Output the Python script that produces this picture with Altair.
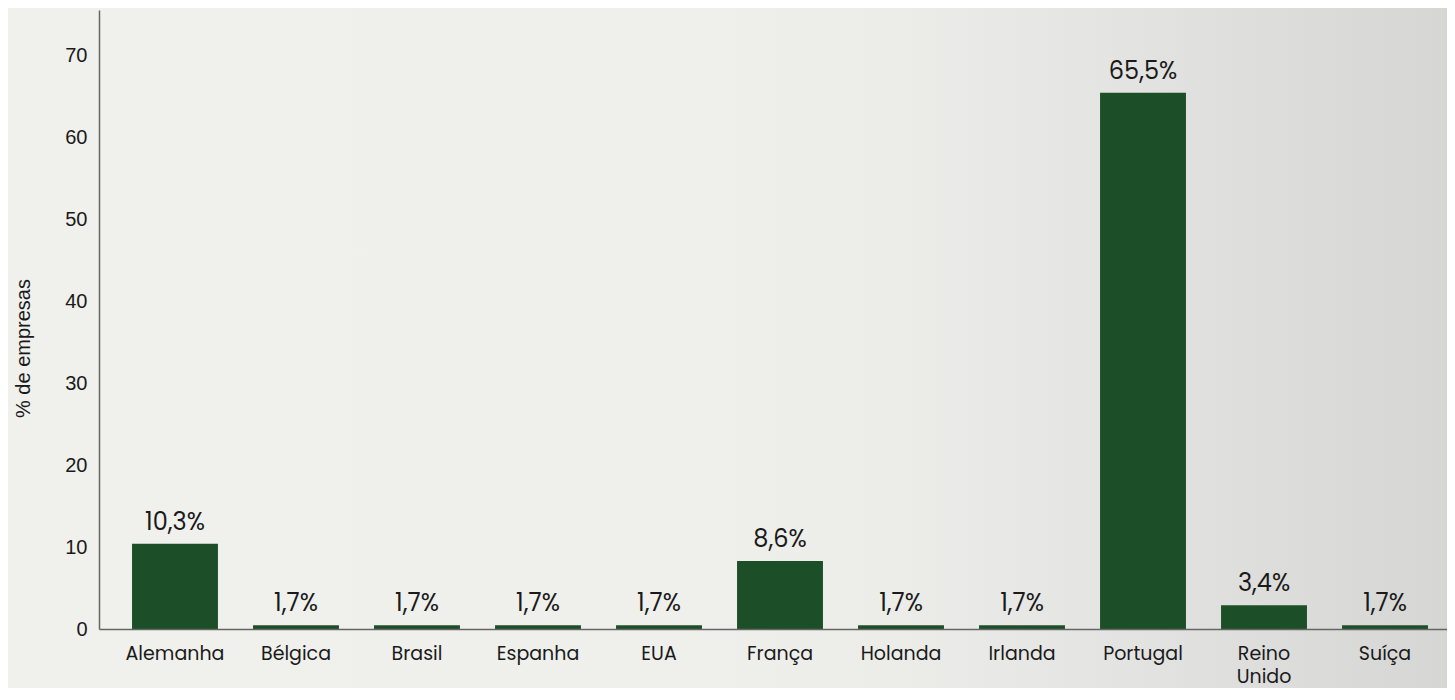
import altair as alt
import pandas as pd

countries = ["Alemanha", "Bélgica", "Brasil", "Espanha", "EUA", "França",
             "Holanda", "Irlanda", "Portugal", "Reino Unido", "Suíça"]
bar_values = [10.4, 0.45, 0.45, 0.45, 0.45, 8.3, 0.45, 0.45, 65.4, 2.9, 0.45]
bar_labels = ["10,3%", "1,7%", "1,7%", "1,7%", "1,7%", "8,6%",
              "1,7%", "1,7%", "65,5%", "3,4%", "1,7%"]
y_ticks = [0, 10, 20, 30, 40, 50, 60, 70]

df = pd.DataFrame({"pais": countries, "valor": bar_values, "rotulo": bar_labels})

LEFT = 91
W, H = 1348, 619
TOP, BOTTOM = 2, 59
X_RANGE = 1362
LABEL_FONT = "Poppins, Inter, sans-serif"
BAR_COLOR = "#1c4e28"

grad = alt.LinearGradient(
    gradient="linear", x1=0, x2=1, y1=0, y2=0,
    stops=[
        alt.GradientStop(offset=0.0, color="#f0f0ed"),
        alt.GradientStop(offset=0.44, color="#efefec"),
        alt.GradientStop(offset=0.59, color="#ecece9"),
        alt.GradientStop(offset=0.73, color="#e5e5e4"),
        alt.GradientStop(offset=0.886, color="#dcdcdb"),
        alt.GradientStop(offset=1.0, color="#d6d6d5"),
    ],
)

bg = alt.Chart(alt.Data(values=[{"k": 1}])).mark_rect(fill=grad, clip=False).encode(
    x=alt.value(0), x2=alt.value(W), y=alt.value(-TOP), y2=alt.value(H + BOTTOM)
)

x_enc = alt.X(
    "pais:N", sort=countries, title=None,
    scale=alt.Scale(paddingInner=0.29, paddingOuter=0.273, round=False,
                    range=[0, X_RANGE]),
    axis=alt.Axis(
        labelAngle=0, ticks=False, tickSize=0, labelPadding=30,
        labelBaseline="alphabetic", labelFont=LABEL_FONT, labelFontSize=19,
        labelColor="#1a1a1a", labelLineHeight=23,
        labelExpr="split(datum.label, ' ')",
        domainColor="#666666", domainWidth=1.5, zindex=2,
    ),
)

y_enc = alt.Y(
    "valor:Q", title="% de empresas",
    scale=alt.Scale(domain=[0, 75.5], nice=False),
    axis=alt.Axis(
        values=y_ticks, grid=False, ticks=False, tickSize=0, labelPadding=12,
        labelFont="Liberation Sans", labelFontSize=20, labelColor="#1a1a1a",
        titleFont="Liberation Sans", titleFontSize=20, titleFontWeight="normal",
        titleColor="#1a1a1a", titleAngle=270, titleAlign="center",
        titleBaseline="middle", titleX=-76, titleY=338,
        domainColor="#666666", domainWidth=1.5, zindex=2,
    ),
)

bars = alt.Chart(df).mark_bar(color=BAR_COLOR).encode(x=x_enc, y=y_enc)

labels = alt.Chart(df).mark_text(
    font=LABEL_FONT, fontSize=24, color="#1a1a1a", baseline="alphabetic", dy=-14
).encode(x=alt.X("pais:N", sort=countries), y="valor:Q", text="rotulo:N")

chart = alt.layer(bg, bars, labels).properties(
    width=W, height=H,
    autosize=alt.AutoSizeParams(type="none"),
    padding={"left": LEFT, "top": TOP, "right": 0, "bottom": BOTTOM},
).configure(background="#f0f0ed").configure_view(stroke=None)

chart.save("out.html", embed_options={"renderer": "svg", "actions": False})
